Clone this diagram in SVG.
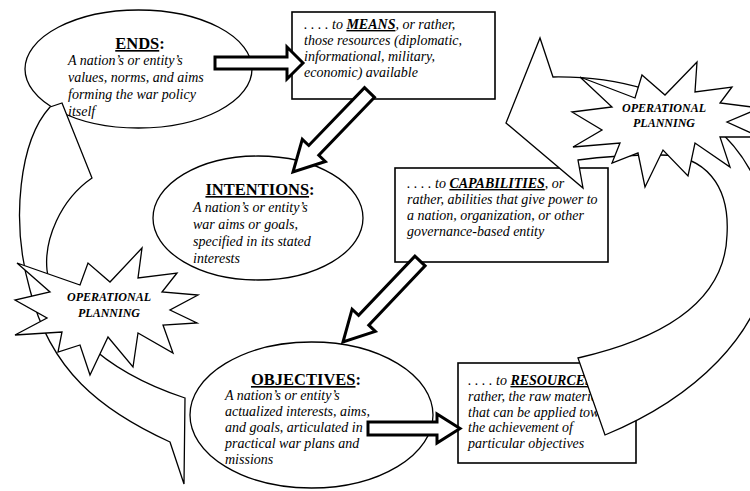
<svg xmlns="http://www.w3.org/2000/svg" width="750" height="491" viewBox="0 0 750 491">
<style>
.shape{fill:#fff;stroke:#000;stroke-width:1.3;stroke-linejoin:miter}
.box{fill:#fff;stroke:#000;stroke-width:1.6}
.block{fill:#fff;stroke:#000;stroke-width:3;stroke-linejoin:miter}
text{font-family:"Liberation Serif","Times New Roman",serif;fill:#000}
.title{font-weight:bold;font-size:16.5px;text-anchor:middle}
.body{font-style:italic;font-size:14px}
.key{font-weight:bold;text-decoration:underline}
.op{font-style:italic;font-weight:bold;font-size:12px;text-anchor:middle}
</style>
<rect width="750" height="491" fill="#fff"/>

<g id="ends">
<ellipse class="shape" cx="138.5" cy="69" rx="113.5" ry="59"/>
<text class="title" x="140" y="49"><tspan text-decoration="underline">ENDS</tspan>:</text>
<text class="body" x="68" y="65">A nation’s or entity’s</text>
<text class="body" x="68" y="82">values, norms, and aims</text>
<text class="body" x="68" y="99">forming the war policy</text>
<text class="body" x="68" y="116">itself</text>
</g>

<g id="means">
<rect class="box" x="292" y="12" width="203" height="87"/>
<text class="body" x="304" y="29">. . . . to <tspan class="key">MEANS</tspan>, or rather,</text>
<text class="body" x="304" y="45">those resources (diplomatic,</text>
<text class="body" x="304" y="61">informational, military,</text>
<text class="body" x="304" y="77">economic) available</text>
</g>

<g id="intentions">
<ellipse class="shape" cx="258" cy="218" rx="105" ry="62"/>
<text class="title" x="260" y="195"><tspan text-decoration="underline">INTENTIONS</tspan>:</text>
<text class="body" x="193" y="212">A nation’s or entity’s</text>
<text class="body" x="193" y="229">war aims or goals,</text>
<text class="body" x="193" y="246">specified in its stated</text>
<text class="body" x="193" y="263">interests</text>
</g>

<g id="capabilities">
<rect class="box" x="395" y="168" width="213" height="94"/>
<text class="body" x="407" y="188">. . . . to <tspan class="key">CAPABILITIES</tspan>, or</text>
<text class="body" x="407" y="204">rather, abilities that give power to</text>
<text class="body" x="407" y="220">a nation, organization, or other</text>
<text class="body" x="407" y="236">governance-based entity</text>
</g>

<g id="objectives">
<ellipse class="shape" cx="311.5" cy="415" rx="121.5" ry="73"/>
<text class="title" x="306" y="385"><tspan text-decoration="underline">OBJECTIVES</tspan>:</text>
<text class="body" x="225" y="400">A nation’s or entity’s</text>
<text class="body" x="225" y="416">actualized interests, aims,</text>
<text class="body" x="225" y="432">and goals, articulated in</text>
<text class="body" x="225" y="448">practical war plans and</text>
<text class="body" x="225" y="464">missions</text>
</g>

<g id="resources">
<rect class="box" x="458" y="363" width="178" height="100"/>
<text class="body" x="468" y="385">. . . . to <tspan class="key">RESOURCES</tspan>, or</text>
<text class="body" x="468" y="401">rather, the raw materials</text>
<text class="body" x="468" y="417">that can be applied toward</text>
<text class="body" x="468" y="432">the achievement of</text>
<text class="body" x="468" y="448">particular objectives</text>
</g>

<g id="connectors">
<path class="shape" d="M50,107 L62,103 L92,178 C60,200 44,240 47,270 C52,320 100,370 185,398 L184,484 L170,442 C100,410 50,370 30,290 C10,220 20,140 50,107 Z"/>
<path class="shape" d="M506,123 L540,38 L553,77 C690,75 770,150 770,250 C766,335 690,400 605,435 L578,358 C665,338 725,300 727,235 C730,185 705,155 660,155 C630,155 600,157 578,160 L583,188 Z"/>
<polygon class="block" points="215,57 287,57 287,47 303,63 287,79 287,69 215,69"/>
<polygon class="block" points="364.5,87.6 374.5,97.4 318.8,155.3 325.3,161.5 293,172 302.3,139.3 308.8,145.5"/>
<polygon class="block" points="414.9,256.2 425.1,265.8 368.8,325.1 375.3,331.3 343,342 352.1,309.2 358.6,315.4"/>
<polygon class="block" points="368,422 437,422 437,414 460,428.5 437,443 437,435 368,435"/>
</g>

<g id="op-left">
<polygon class="shape" points="17,263 80,285 88,263 110,282 142,248 138,278 177,273 162,292 198,295 170,310 197,323 163,325 173,353 138,333 133,367 108,337 90,375 80,345 58,352 62,332 15,335 47,318 15,300 50,292"/>
<text class="op" x="109" y="301">OPERATIONAL</text>
<text class="op" x="109" y="317">PLANNING</text>
</g>

<g id="op-right">
<polygon class="shape" points="642,75 665,95 697,62 695,92 732,87 720,103 760,108 727,122 760,137 720,137 730,167 695,143 688,176 663,150 645,187 638,153 612,163 620,143 573,147 602,130 572,112 612,107 580,77 635,98"/>
<text class="op" x="664" y="112">OPERATIONAL</text>
<text class="op" x="664" y="127">PLANNING</text>
</g>
</svg>
